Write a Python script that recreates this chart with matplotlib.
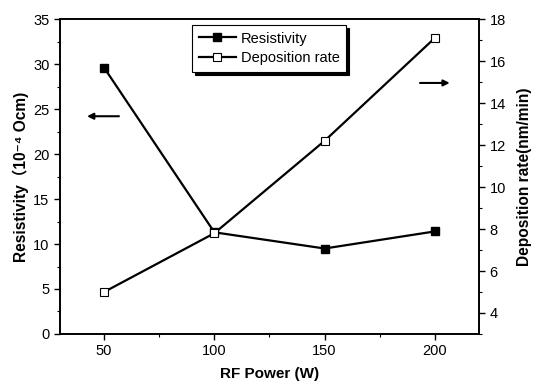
import matplotlib
matplotlib.use("Agg")
import matplotlib.pyplot as plt
from matplotlib.ticker import MultipleLocator

plt.rcParams['font.family'] = ['Liberation Sans', 'DejaVu Sans']

rf_power = [50, 100, 150, 200]
resistivity = [29.6, 11.3, 9.5, 11.4]
deposition_rate = [5.0, 7.8, 12.2, 17.1]

fig = plt.figure(figsize=(5.38, 3.85), dpi=100)
ax = fig.add_axes([0.1115, 0.1325, 0.7788, 0.818])
ax2 = ax.twinx()

l1, = ax.plot(rf_power, resistivity, color='black', lw=1.6, marker='s',
              markersize=6, markerfacecolor='black', markeredgecolor='black',
              label='Resistivity')
l2, = ax2.plot(rf_power, deposition_rate, color='black', lw=1.6, marker='s',
               markersize=6, markerfacecolor='white', markeredgecolor='black',
               markeredgewidth=0.8, label='Deposition rate')

ax.set_xlim(30, 220)
ax.set_ylim(0, 35)
ax2.set_ylim(3, 18)

ax.xaxis.set_major_locator(MultipleLocator(50))
ax.xaxis.set_minor_locator(MultipleLocator(25))
ax.yaxis.set_major_locator(MultipleLocator(5))
ax.yaxis.set_minor_locator(MultipleLocator(2.5))
ax2.yaxis.set_major_locator(MultipleLocator(2))
ax2.yaxis.set_minor_locator(MultipleLocator(1))

for a in (ax, ax2):
    for s in a.spines.values():
        s.set_linewidth(1.2)
ax.tick_params(axis='both', which='major', direction='out', length=4, width=1, labelsize=10.5)
ax.tick_params(axis='both', which='minor', direction='out', length=2.5, width=0.8)
ax.tick_params(top=False)
ax2.tick_params(axis='y', which='major', direction='out', length=4, width=1, labelsize=10.5)
ax2.tick_params(axis='y', which='minor', direction='out', length=2.5, width=0.8)

ax.set_xlabel('RF Power (W)', fontsize=11, fontweight='bold', labelpad=6)
ax.set_ylabel('Resistivity（10⁻⁴ Ocm)', fontsize=11.2, fontweight='bold',
              family=['Liberation Sans', 'DejaVu Sans', 'Noto Sans CJK SC'], labelpad=3)
ax2.set_ylabel('Deposition rate(nm/min)', fontsize=11.2, fontweight='bold', labelpad=8)

leg = ax.legend(handles=[l1, l2], loc='upper left', bbox_to_anchor=(0.315, 0.981),
                fancybox=False, edgecolor='black', framealpha=1,
                shadow={'color': 'black', 'alpha': 1},
                fontsize=10.5, handlelength=2.6, handletextpad=0.3,
                borderpad=0.45, labelspacing=0.4, borderaxespad=0)
leg.get_frame().set_linewidth(0.8)

# direction arrows
left_arrow_start = (58, 24.2)
left_arrow_end = (41, 24.2)
right_arrow_start = (192, 27.9)
right_arrow_end = (208, 27.9)
ax.annotate('', xy=left_arrow_end, xytext=left_arrow_start,
            arrowprops=dict(arrowstyle='-|>', lw=1.5, color='black', mutation_scale=9))
ax.annotate('', xy=right_arrow_end, xytext=right_arrow_start,
            arrowprops=dict(arrowstyle='-|>', lw=1.5, color='black', mutation_scale=9))

fig.savefig('out.png', dpi=100)
